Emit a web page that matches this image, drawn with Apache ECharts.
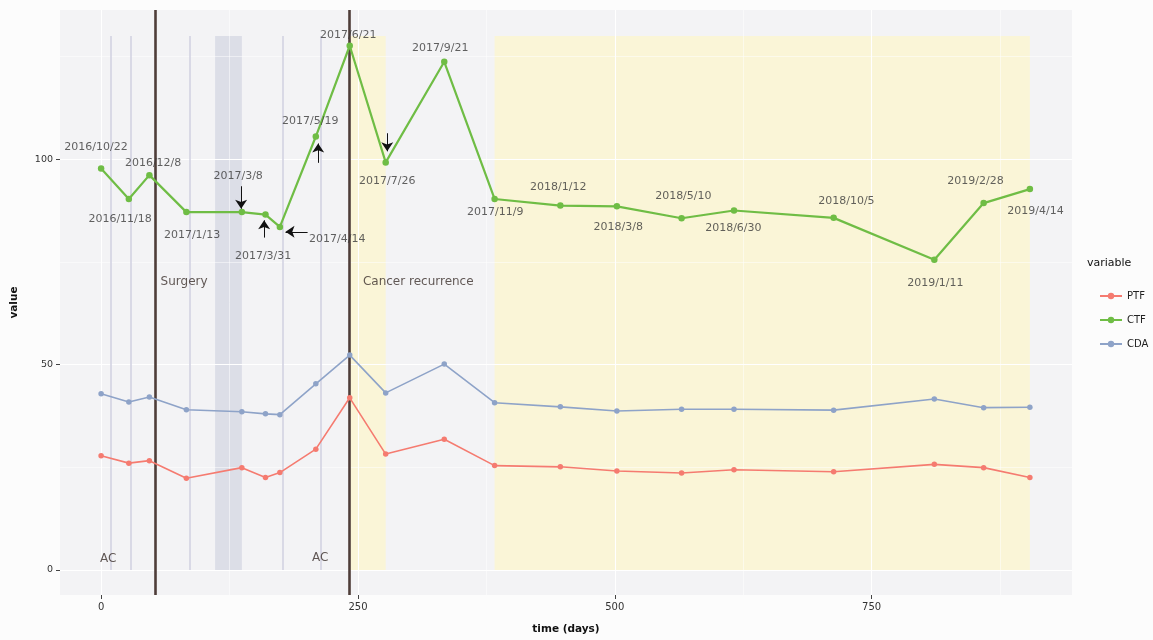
<!DOCTYPE html>
<html>
<head>
<meta charset="utf-8">
<script src="https://cdn.jsdelivr.net/npm/echarts@6/dist/echarts.min.js"></script>
<style>
html,body{margin:0;padding:0;background:#fcfcfc;}
#chart{width:1153px;height:640px;}
</style>
</head>
<body>
<div id="chart"></div>
<script>
// ---- data ----
const dates = ['2016/10/22','2016/11/18','2016/12/8','2017/1/13','2017/3/8','2017/3/31','2017/4/14','2017/5/19','2017/6/21','2017/7/26','2017/9/21','2017/11/9','2018/1/12','2018/3/8','2018/5/10','2018/6/30','2018/10/5','2019/1/11','2019/2/28','2019/4/14'];
const days = [0,27,47,83,137,160,174,209,242,277,334,383,447,502,565,616,713,811,859,904];
const ptf = [27.8,26.0,26.6,22.3,24.9,22.5,23.7,29.4,41.9,28.2,31.8,25.4,25.1,24.1,23.6,24.4,23.9,25.7,24.9,22.5];
const ctf = [97.7,90.3,96.1,87.1,87.1,86.5,83.5,105.5,127.6,99.2,123.7,90.3,88.7,88.5,85.6,87.5,85.7,75.5,89.3,92.7];
const cda = [42.9,40.9,42.1,39.0,38.5,38.0,37.8,45.3,52.3,43.1,50.1,40.7,39.7,38.7,39.1,39.1,38.9,41.6,39.5,39.6];
const seriesNames = ['PTF','CTF','CDA'];
const xTicks = [0,250,500,750];
const yTicks = [0,50,100];

// events (days)
const acDays = [9.3,29.2,86.2,176.7,213.7];
const eventDays = [53,242];
const grayBand = [[111,137]];
const yellowBands = [[242,277],[383,904]];
const bandTop = 130;

// annotation placements (data coords)
const dateLabelPos = [[-5,102.9],[18.5,85.5],[50.6,99.0],[88.6,81.6],[133.4,95.9],[157.7,76.5],[229.8,80.6],[203.5,109.2],[240.5,130.3],[278.5,94.7],[330.1,126.9],[383.6,87.2],[445,93.2],[503.4,83.5],[566.7,91.0],[615.4,83.3],[725.4,89.8],[812,69.7],[851,94.7],[909.5,87.4]];
const arrows = [[[136.3,93.4],[136.3,87.9]],[[158.7,80.9],[158.7,85.1]],[[201,82.3],[179.5,82.3]],[[211.3,99.1],[211.3,103.8]],[[278.5,106.3],[278.5,101.9]]];
const notes = [['Surgery',80.8,70.0],['Cancer recurrence',308.7,70.0],['AC',6.8,2.7],['AC',213.2,2.9]];

const colors = {PTF:'#f57b70', CTF:'#6fbd45', CDA:'#8ea3c8'};

const gridLines = [];
[0,50,100].forEach(v=>gridLines.push({yAxis:v,lineStyle:{width:1.1}}));
[25,75,125].forEach(v=>gridLines.push({yAxis:v,lineStyle:{width:0.5}}));
[0,250,500,750].forEach(v=>gridLines.push({xAxis:v,lineStyle:{width:1.1}}));
[125,375,625,875].forEach(v=>gridLines.push({xAxis:v,lineStyle:{width:0.5}}));

const areaData = [];
grayBand.forEach(b=>areaData.push([{coord:[b[0],0],itemStyle:{color:'rgba(175,182,204,0.34)'}},{coord:[b[1],bandTop]}]));
yellowBands.forEach(b=>areaData.push([{coord:[b[0],0],itemStyle:{color:'rgba(255,246,195,0.6)'}},{coord:[b[1],bandTop]}]));

const vlineData = [];
acDays.forEach(d=>vlineData.push([{coord:[d,0],lineStyle:{color:'#d2d2e2',width:1.6}},{coord:[d,bandTop]}]));
eventDays.forEach(d=>vlineData.push({xAxis:d,lineStyle:{color:'#4e3d39',width:2.6}}));

const font = 'DejaVu Sans';

const dataSeries = seriesNames.map((name,k)=>{
  const vals = [ptf,ctf,cda][k];
  return {
    name, type:'line', z:5,
    data: days.map((d,i)=>[d, vals[i]]),
    symbol:'circle', symbolSize: name==='CTF'?6.5:5.5,
    itemStyle:{color:colors[name]},
    lineStyle:{color:colors[name], width: name==='CTF'?2.2:1.6},
    emphasis:{disabled:true}
  };
});

const option = {
  animation:false,
  backgroundColor:'#fcfcfc',
  grid:{left:60,right:81,top:10,bottom:42,show:true,backgroundColor:'#f3f3f5',borderWidth:0},
  xAxis:{
    type:'value', min:-40, max:945,
    splitLine:{show:false},
    axisLine:{show:false,onZero:false},
    axisTick:{show:true,length:4,lineStyle:{color:'#444'},customValues:xTicks},
    axisLabel:{customValues:xTicks,margin:7,fontSize:10,color:'#333',fontFamily:font},
    name:'time (days)', nameLocation:'middle', nameGap:29,
    nameTextStyle:{fontSize:10.5,fontWeight:'bold',color:'#111',fontFamily:font}
  },
  yAxis:{
    type:'value', min:-6.1, max:136.3,
    splitLine:{show:false},
    axisLine:{show:false,onZero:false},
    axisTick:{show:true,length:4,lineStyle:{color:'#444'},customValues:yTicks},
    axisLabel:{customValues:yTicks,margin:7,fontSize:9.5,color:'#333',fontFamily:font},
    name:'value', nameLocation:'middle', nameGap:40, nameRotate:90,
    nameTextStyle:{fontSize:10.5,fontWeight:'bold',color:'#111',fontFamily:font}
  },
  legend:{
    data:seriesNames, orient:'vertical', left:1094, top:286,
    itemWidth:22, itemHeight:8, itemGap:14,
    textStyle:{fontSize:10,color:'#222',fontFamily:font}
  },
  graphic:[{type:'text',left:1087,top:258,style:{text:'variable',font:'11px "DejaVu Sans"',fill:'#111'}}],
  series:[
    {type:'line',data:[],z:1,silent:true,
     markLine:{silent:true,symbol:['none','none'],label:{show:false},emphasis:{disabled:true},
       lineStyle:{color:'#ffffff',type:'solid'},data:gridLines}},
    {type:'line',data:[],z:2,silent:true,
     markArea:{silent:true,label:{show:false},emphasis:{disabled:true},data:areaData}},
    {type:'line',data:[],z:3,silent:true,
     markLine:{silent:true,symbol:['none','none'],label:{show:false},emphasis:{disabled:true},
       lineStyle:{type:'solid'},data:vlineData}},
    ...dataSeries,
    {type:'scatter',z:10,silent:true,symbolSize:0,
     data:dateLabelPos.map((p,i)=>({value:p,name:dates[i]})),
     label:{show:true,position:'inside',formatter:p=>p.name,fontSize:11,color:'#3a3a3a',fontFamily:font}},
    {type:'line',data:[],z:11,silent:true,
     markLine:{silent:true,symbol:['none','arrow'],symbolSize:9,label:{show:false},emphasis:{disabled:true},
       itemStyle:{color:'#111'},
       lineStyle:{color:'#111',width:1,type:'solid'},
       data:arrows.map(a=>[{coord:a[0]},{coord:a[1]}])}},
    {type:'scatter',z:10,silent:true,symbolSize:0,
     data:notes.map(n=>({value:[n[1],n[2]],name:n[0]})),
     label:{show:true,position:'inside',formatter:p=>p.name,fontSize:12,color:'#3b302c',fontFamily:font}}
  ]
};
const chart = echarts.init(document.getElementById('chart'),null,{renderer:'canvas'});
chart.setOption(option);
</script>
</body>
</html>
